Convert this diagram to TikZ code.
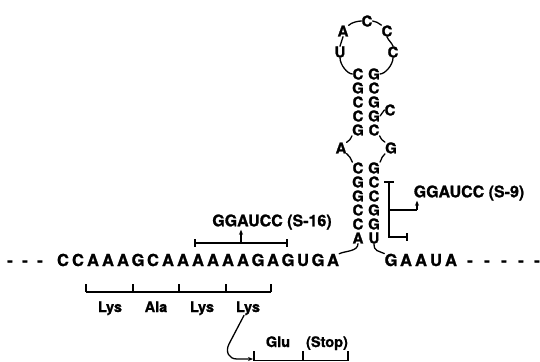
\documentclass[tikz,border=0pt]{standalone}
\usepackage{fontspec}
\setmainfont{TeX Gyre Heros}[BoldFeatures={FakeBold=1.2}]
\usetikzlibrary{arrows.meta}
\begin{document}
\begin{tikzpicture}[x=1pt,y=-1pt,
 nt/.style={font=\fontsize{16.5}{16.5}\selectfont\bfseries, inner sep=0pt},
 st/.style={font=\fontsize{15}{15}\selectfont\bfseries, inner sep=0pt},
 lab/.style={font=\fontsize{16}{16}\selectfont\bfseries, inner sep=0pt},
 aa/.style={font=\fontsize{14.5}{14.5}\selectfont\bfseries, inner sep=0pt, anchor=base},
 con/.style={line width=1.3pt, line cap=round},
 brk/.style={line width=1.4pt},
 tip/.style={-{Stealth[length=5pt,width=4pt]}},
]
\useasboundingbox (0,0) rectangle (540,361);
% main sequence
\foreach \x [count=\i] in {10,25,40} \node[nt,anchor=base] (ld\i) at (\x,266) {-};
\foreach \c [count=\i from 0] in {C,C,A,A,A,G,C,A,A,A,A,A,A,G,A,G,U,G,A}
  \node[nt,anchor=base] (s\i) at ({63+15*\i},266) {\c};
\foreach \c [count=\i from 0] in {G,A,A,U,A}
  \node[nt,anchor=base] (g\i) at ({391+15*\i},266) {\c};
\foreach \x [count=\i] in {470,487,504,521,537} \node[nt,anchor=base] (rd\i) at (\x,266) {-};
% stem
\foreach \c/\y [count=\i] in {C/74,G/88,C/102,C/116,G/130} \node[st] (ul\i) at (358,\y) {\c};
\foreach \c/\y [count=\i] in {G/74,C/88,G/102,G/116,C/130} \node[st] (ur\i) at (374,\y) {\c};
\node[st] (bc) at (390,110) {C};
\node[st] (ia) at (341,148) {A};
\node[st] (ig) at (391,148) {G};
\foreach \c/\y [count=\i] in {C/168,G/182,G/196,C/210,C/224,A/238} \node[st] (ll\i) at (358,\y) {\c};
\foreach \c/\y [count=\i] in {G/168,C/182,C/196,G/210,G/224,U/238} \node[st] (lr\i) at (374,\y) {\c};
% loop
\node[st] (lu) at (340,52) {U};
\node[st] (la) at (343,31) {A};
\node[st] (lc1) at (367,21) {C};
\node[st] (lc2) at (387,31) {C};
\node[st] (lc3) at (393,52) {C};
\draw[con] (lu.north) -- (la.south);
\draw[con] (la.north east) .. controls +(3,-3) and +(-3,0) .. (lc1.west);
\draw[con] (lc1.east) .. controls +(3,0) and +(-3,-2) .. (lc2.north west);
\draw[con] (lc2.south) .. controls +(1,3) and +(-1,-3) .. (lc3.north);
\draw[con] (lc3.south) .. controls +(0,7) and +(5,0) .. (ur1.east);
\draw[con] (lu.south) .. controls +(0,7) and +(-5,0) .. (ul1.west);
\draw[con] (ur4.east) -- (bc.west);
\draw[con] (ul5.south west) .. controls +(-2,4) and +(3,-2) .. (ia.north east);
\draw[con] (ia.south east) .. controls +(3,2) and +(-2,-4) .. (ll1.north west);
\draw[con] (ur5.south east) .. controls +(2,4) and +(-3,-2) .. (ig.north west);
\draw[con] (ig.south west) .. controls +(-3,2) and +(2,-4) .. (lr1.north east);
\draw[con] (ll6.south) .. controls +(0,8) and +(6,-3) .. (s18.north east);
\draw[con] (lr6.south) .. controls +(0,8) and +(-6,-3) .. (g0.north west);
% S-16
\node[lab] (s16) at (272,222) {GGAUCC (S-16)};
\draw[brk] (195,239) -- (195,247) (195,243) -- (287,243) (287,239) -- (287,247);
\coordinate (s16b) at (241,243);
\draw[brk,tip] (s16b) -- (s16b |- s16.south);
% S-9
\node[lab] (s9) at (469,193) {GGAUCC (S-9)};
\draw[brk] (384,182) -- (394,182) (389,182) -- (389,237) -- (407,237) (407,233) -- (407,241) (389,210) -- (417,210);
\coordinate (s9b) at (417,210);
\draw[brk,tip] (s9b) -- (s9b |- s9.south);
% codons
\draw[brk] (86,292) -- (271,292);
\foreach \x in {86,133,179,226,271} \draw[brk] (\x,284) -- (\x,292);
\node[aa] (c1) at (110,312) {Lys};
\node[aa] (c2) at (156,312) {Ala};
\node[aa] (c3) at (202,312) {Lys};
\node[aa] (c4) at (248,312) {Lys};
\node[aa] (c5) at (278,347) {Glu};
\node[aa] (c6) at (327,347) {(Stop)};
\draw[line width=0.8pt] (254,360.5) -- (348,360.5);
\foreach \x in {254,303,348} \draw[brk] (\x,351) -- (\x,361);
\coordinate (gt) at (253,359);
\draw[con,tip] ([xshift=-4pt]c4.south) -- (229,344) .. controls (225,352) and (229,359) .. (237,359) -- (gt);
\end{tikzpicture}
\end{document}
